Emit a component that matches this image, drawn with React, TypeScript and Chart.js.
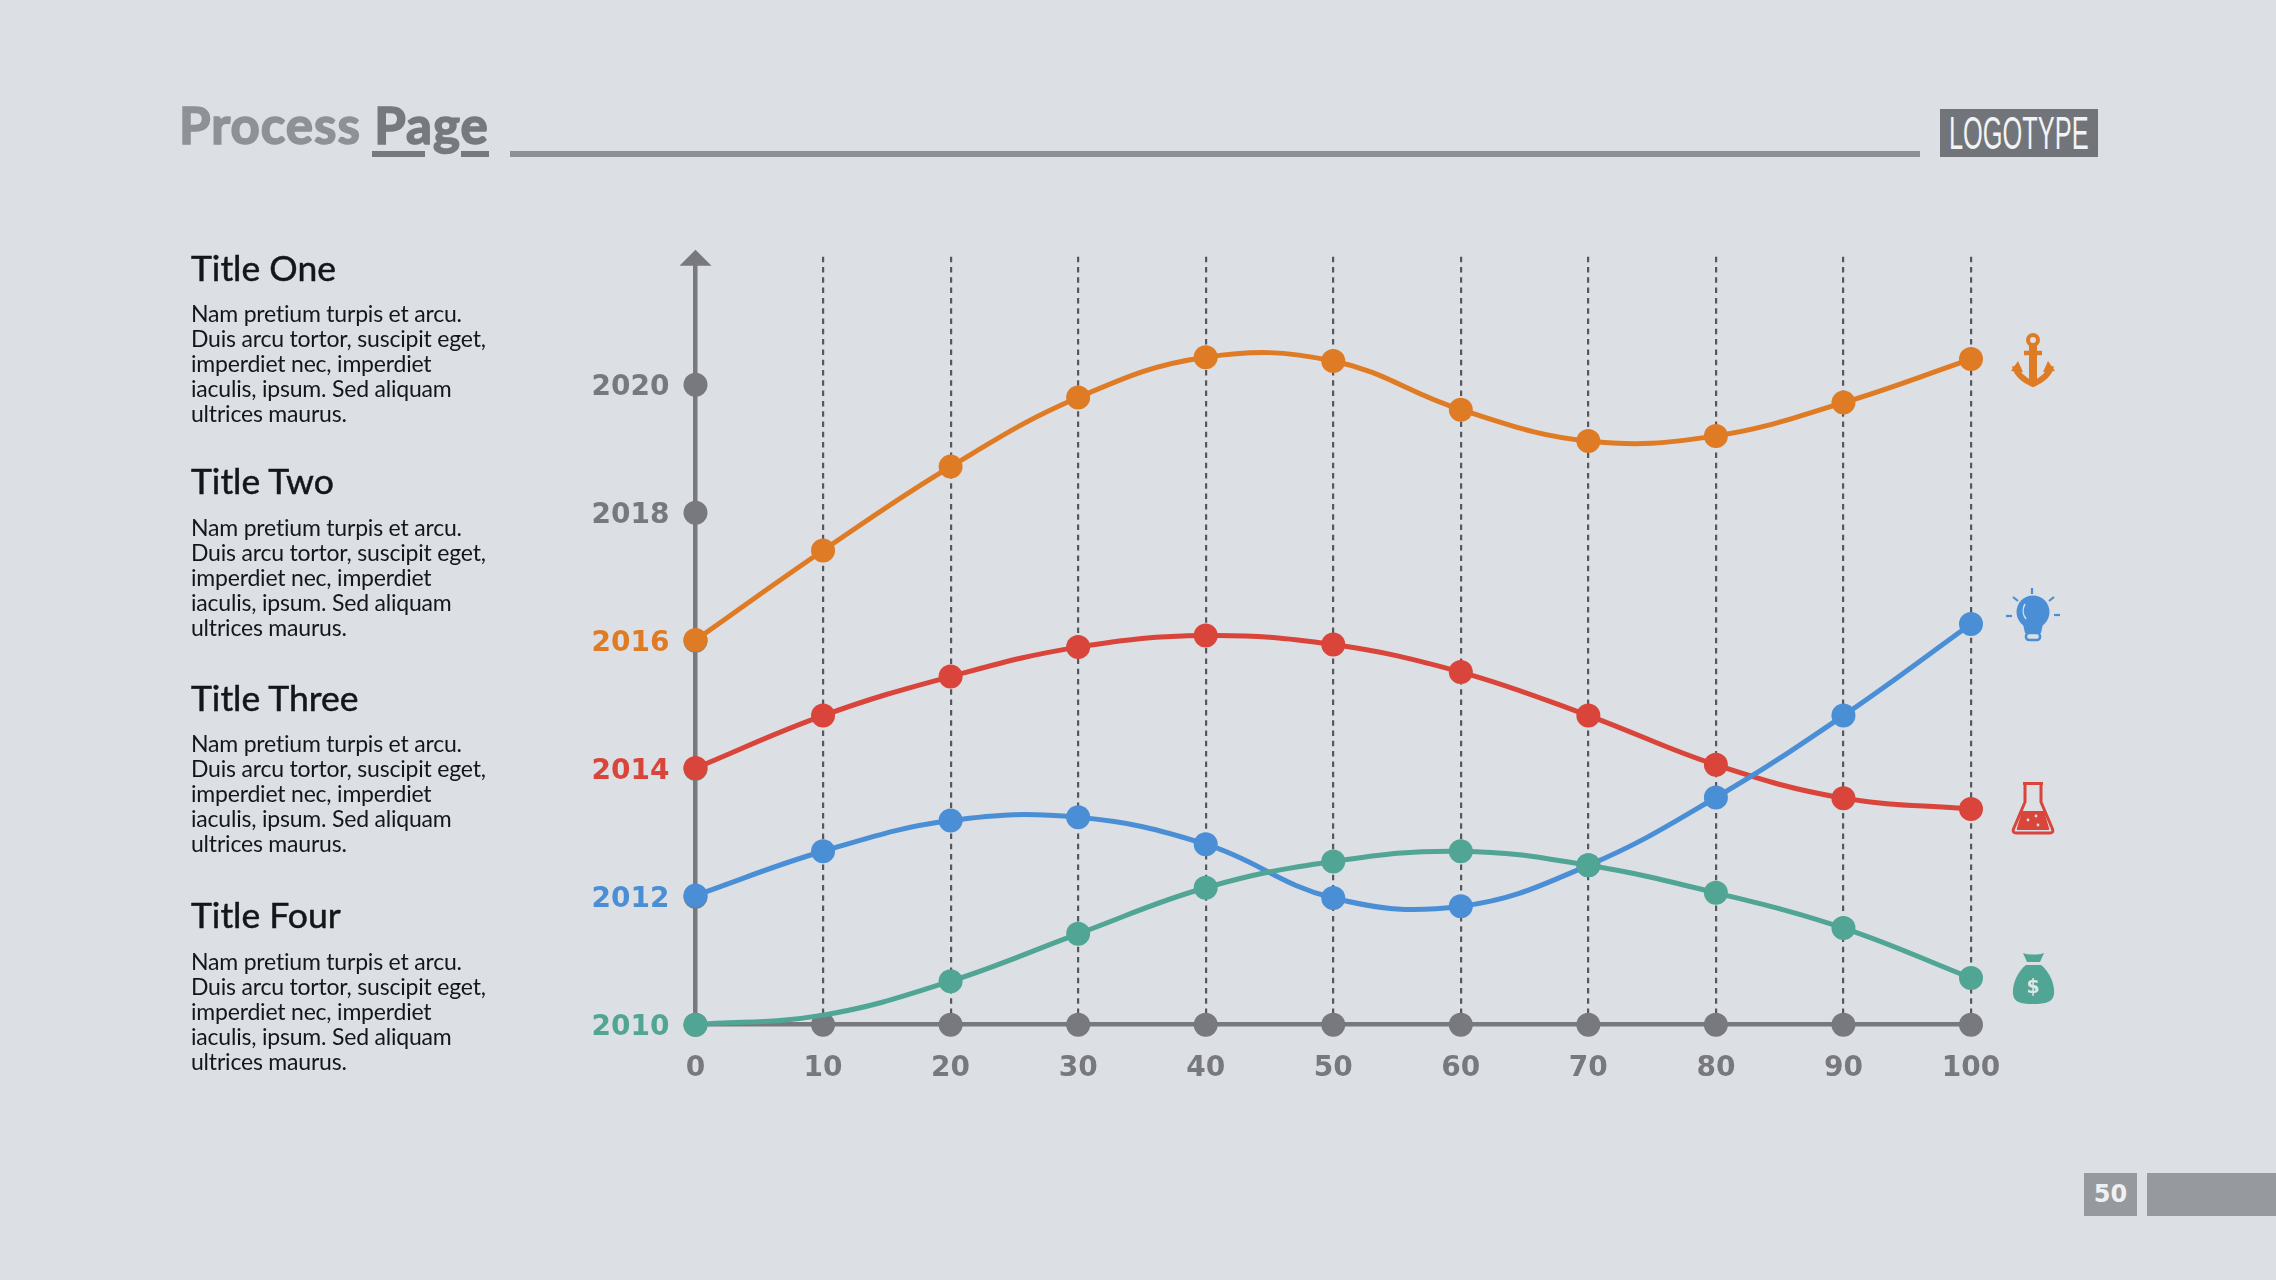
import React, { useEffect, useRef } from "react";
import { Chart, registerables } from "chart.js";

Chart.register(...registerables);

const xTicks = [0, 10, 20, 30, 40, 50, 60, 70, 80, 90, 100];
const yTicks = [2012, 2014, 2016, 2018, 2020];

const orangeValues = [2016.01, 2017.41, 2018.72, 2019.8, 2020.43, 2020.37, 2019.61, 2019.12, 2019.2, 2019.72, 2020.4];
const redValues = [2014.01, 2014.83, 2015.44, 2015.9, 2016.08, 2015.94, 2015.51, 2014.83, 2014.06, 2013.54, 2013.37];
const blueValues = [2012.02, 2012.71, 2013.19, 2013.24, 2012.82, 2011.98, 2011.85, 2012.49, 2013.55, 2014.83, 2016.26];
const greenValues = [2010.0, 2010.15, 2010.68, 2011.42, 2012.14, 2012.55, 2012.71, 2012.49, 2012.06, 2011.51, 2010.73];

const sections = ["Title One", "Title Two", "Title Three", "Title Four"];
const bodyLines = [
  "Nam pretium turpis et arcu.",
  "Duis arcu tortor, suscipit eget,",
  "imperdiet nec, imperdiet",
  "iaculis, ipsum. Sed aliquam",
  "ultrices maurus.",
];

const ORANGE = "#e07b25";
const RED = "#d9453a";
const BLUE = "#4a8fd6";
const GREEN = "#50a594";
const GRAY = "#77797e";
const BG = "#dcdfe3";

const tickColors: Record<number, string> = {
  2010: GREEN,
  2012: BLUE,
  2014: RED,
  2016: ORANGE,
  2018: GRAY,
  2020: GRAY,
};

const titleTops = [268, 481, 697.5, 915];
const bodyTops = [313.5, 527, 743.5, 961.5];

const series = (label: string, values: number[], color: string, hidden: number[] = []) => ({
  type: "line" as const,
  label,
  data: values.map((y, i) => ({ x: xTicks[i], y })),
  borderColor: color,
  backgroundColor: color,
  borderWidth: 5,
  tension: 0.4,
  cubicInterpolationMode: "default" as const,
  pointRadius: values.map((_, i) => (hidden.includes(i) ? 0 : 12)),
  pointBorderWidth: 0,
  pointBackgroundColor: color,
  clip: false as const,
});

const axisFontString = "bold 28px 'DejaVu Sans'";

const axisDecorPlugin = {
  id: "axisDecor",
  afterDraw(chart: any) {
    const { ctx, scales } = chart;
    const x = scales.x.getPixelForValue(0);
    const top = scales.y.getPixelForValue(2022);
    ctx.save();
    ctx.fillStyle = GRAY;
    ctx.beginPath();
    ctx.moveTo(x, top - 7);
    ctx.lineTo(x + 16, top + 9);
    ctx.lineTo(x - 16, top + 9);
    ctx.closePath();
    ctx.fill();
    // year labels sit a little under their points in the reference
    ctx.font = axisFontString;
    ctx.textAlign = "right";
    ctx.textBaseline = "middle";
    scales.y.ticks.forEach((t: any) => {
      if (t.value === 2022) return;
      ctx.fillStyle = tickColors[t.value] || GRAY;
      ctx.fillText(String(t.value), x - 26, scales.y.getPixelForValue(t.value) + 3);
    });
    ctx.restore();
  },
};

function Icons() {
  return (
    <svg width={2276} height={1280} style={{ position: "absolute", left: 0, top: 0, pointerEvents: "none" }}>
      {/* anchor */}
      <g fill="none" stroke={ORANGE} strokeLinecap="butt">
        <circle cx={2033} cy={340} r={5} strokeWidth={4} />
        <path d="M2033 345V382" strokeWidth={8} />
        <path d="M2024 353H2042" strokeWidth={4.5} />
        <path d="M2015 366C2017 376 2026 381 2033 384C2040 381 2049 376 2051 366" strokeWidth={6} />
      </g>
      <path d="M2011 371L2018 361L2023 372Z M2055 371L2048 361L2043 372Z" fill={ORANGE} />
      {/* bulb */}
      <circle cx={2033} cy={612} r={16.5} fill={BLUE} />
      <path d="M2023 624L2043 624L2041 633L2025 633Z" fill={BLUE} />
      <rect x={2026} y={633} width={14} height={7} rx={3} fill="none" stroke={BLUE} strokeWidth={2.5} />
      <path d="M2025 604C2022 609 2023 615 2026 619" fill="none" stroke="#cfe0f2" strokeWidth={1.5} />
      <g stroke={BLUE} strokeWidth={2.2}>
        <path d="M2032 588V594" />
        <path d="M2013 597L2018 601" />
        <path d="M2049 601L2054 597" />
        <path d="M2006 616H2012" />
        <path d="M2054 615H2060" />
      </g>
      {/* flask */}
      <path
        d="M2023 783.5H2043M2025 783.5V802L2013.5 829C2012.5 832 2014 833 2016 833H2050C2052 833 2053.5 832 2052.5 829L2041 802V783.5"
        fill="none"
        stroke={RED}
        strokeWidth={3}
        strokeLinejoin="round"
      />
      <path d="M2022 811H2044L2049 828C2049.5 829.5 2049 830 2048 830H2018C2017 830 2016.5 829.5 2017 828Z" fill={RED} />
      <circle cx={2028} cy={820} r={1.4} fill={BG} />
      <circle cx={2036} cy={816} r={1.4} fill={BG} />
      <circle cx={2038} cy={825} r={1.4} fill={BG} />
      {/* money bag */}
      <path d="M2023 953C2028 955 2039 955 2044 953L2040 962H2027Z" fill={GREEN} />
      <path
        d="M2026 965H2041C2050 972 2055 985 2054 994C2053 1002 2046 1004 2033 1004C2020 1004 2014 1002 2013 994C2012 985 2017 972 2026 965Z"
        fill={GREEN}
      />
      <text x={2033} y={993} textAnchor="middle" fontFamily="'DejaVu Sans'" fontWeight={700} fontSize={19} fill="#dfe6e6">
        $
      </text>
    </svg>
  );
}

export default function App() {
  const ref = useRef<HTMLCanvasElement>(null);

  useEffect(() => {
    if (!ref.current) return;
    const axisFont = { family: "'DejaVu Sans'", size: 28, weight: "bold" as const };
    const chart = new Chart(ref.current, {
      type: "line",
      data: {
        datasets: [
          series("Green", greenValues, GREEN, [1]),
          series("Blue", blueValues, BLUE),
          series("Red", redValues, RED),
          series("Orange", orangeValues, ORANGE),
          {
            ...series("Horizontal axis", xTicks.map(() => 2010), GRAY),
            showLine: false,
          },
          {
            type: "line" as const,
            label: "Vertical axis",
            data: yTicks.map((y) => ({ x: 0, y })),
            showLine: false,
            pointRadius: 12,
            pointBorderWidth: 0,
            pointBackgroundColor: GRAY,
            clip: false as const,
          },
        ],
      } as any,
      options: {
        animation: false,
        responsive: false,
        devicePixelRatio: 1,
        layout: { padding: { left: 500, right: 305, top: 256.7, bottom: 155.3 } },
        plugins: { legend: { display: false }, tooltip: { enabled: false } },
        scales: {
          x: {
            type: "linear",
            min: 0,
            max: 100,
            afterFit: (s: any) => {
              s.height = 100;
            },
            border: { color: GRAY, width: 4.5, dash: [5.5, 4.8] },
            grid: {
              color: (c: any) => (c.tick && c.tick.value === 0 ? "rgba(0,0,0,0)" : "#55585c"),
              lineWidth: 2.2,
              drawTicks: false,
            },
            ticks: {
              stepSize: 10,
              autoSkip: false,
              maxRotation: 0,
              padding: 27,
              color: GRAY,
              font: axisFont,
            },
          },
          y: {
            type: "linear",
            min: 2010,
            max: 2022,
            afterFit: (s: any) => {
              s.width = 195.5;
            },
            border: { color: GRAY, width: 4.5 },
            grid: { display: false, drawTicks: false },
            ticks: {
              display: false,
              stepSize: 2,
              autoSkip: false,
            },
          },
        },
      },
      plugins: [axisDecorPlugin],
    } as any);
    return () => chart.destroy();
  }, []);

  return (
    <div style={{ position: "relative", width: 2276, height: 1280, background: BG, overflow: "hidden" }}>
      <style>{`html,body{margin:0;padding:0;background:${BG}}`}</style>
      <canvas ref={ref} width={2276} height={1280} style={{ position: "absolute", left: 0, top: 0 }} />

      {/* header */}
      <div
        style={{
          position: "absolute",
          left: 179,
          top: 95,
          lineHeight: "60px",
          fontFamily: "Lato",
          fontWeight: 700,
          fontSize: 51,
          letterSpacing: 1,
          WebkitTextStroke: "1.6px currentColor",
          whiteSpace: "nowrap",
          color: "#8e9196",
        }}
      >
        Process <span style={{ color: "#76797e" }}>Page</span>
      </div>
      <div style={{ position: "absolute", left: 372, top: 151, width: 53, height: 6, background: "#76797e" }} />
      <div style={{ position: "absolute", left: 461, top: 151, width: 28, height: 6, background: "#76797e" }} />
      <div style={{ position: "absolute", left: 510, top: 151, width: 1410, height: 6, background: "#8d9096" }} />
      <div style={{ position: "absolute", left: 1940, top: 109, width: 158, height: 48, background: "#717479", overflow: "hidden" }}>
        <div
          style={{
            position: "absolute",
            left: 9,
            top: 0,
            lineHeight: "48px",
            fontFamily: "'Liberation Sans'",
            fontSize: 47,
            color: "#f2f3f4",
            whiteSpace: "nowrap",
            transform: "scaleX(0.54)",
            transformOrigin: "0 50%",
          }}
        >
          LOGOTYPE
        </div>
      </div>

      {/* left panel */}
      {sections.map((t, i) => (
        <React.Fragment key={t}>
          <div
            style={{
              position: "absolute",
              left: 191,
              top: titleTops[i] - 22,
              lineHeight: "44px",
              fontFamily: "Lato",
              fontWeight: 400,
              fontSize: 35.5,
              WebkitTextStroke: "0.5px #14161a",
              color: "#14161a",
              whiteSpace: "nowrap",
            }}
          >
            {t}
          </div>
          <div
            style={{
              position: "absolute",
              left: 191,
              top: bodyTops[i] - 12.5,
              lineHeight: "25px",
              fontFamily: "Lato",
              fontSize: 23,
              letterSpacing: -0.2,
              color: "#14161a",
              whiteSpace: "nowrap",
            }}
          >
            {bodyLines.map((l) => (
              <div key={l}>{l}</div>
            ))}
          </div>
        </React.Fragment>
      ))}

      <Icons />

      {/* page number */}
      <div
        style={{
          position: "absolute",
          left: 2084,
          top: 1173,
          width: 53,
          height: 43,
          lineHeight: "43px",
          background: "#96999e",
          color: "#eef0f2",
          textAlign: "center",
          fontFamily: "'DejaVu Sans'",
          fontWeight: 700,
          fontSize: 24,
        }}
      >
        50
      </div>
      <div style={{ position: "absolute", left: 2147, top: 1173, width: 129, height: 43, background: "#96999e" }} />
    </div>
  );
}
